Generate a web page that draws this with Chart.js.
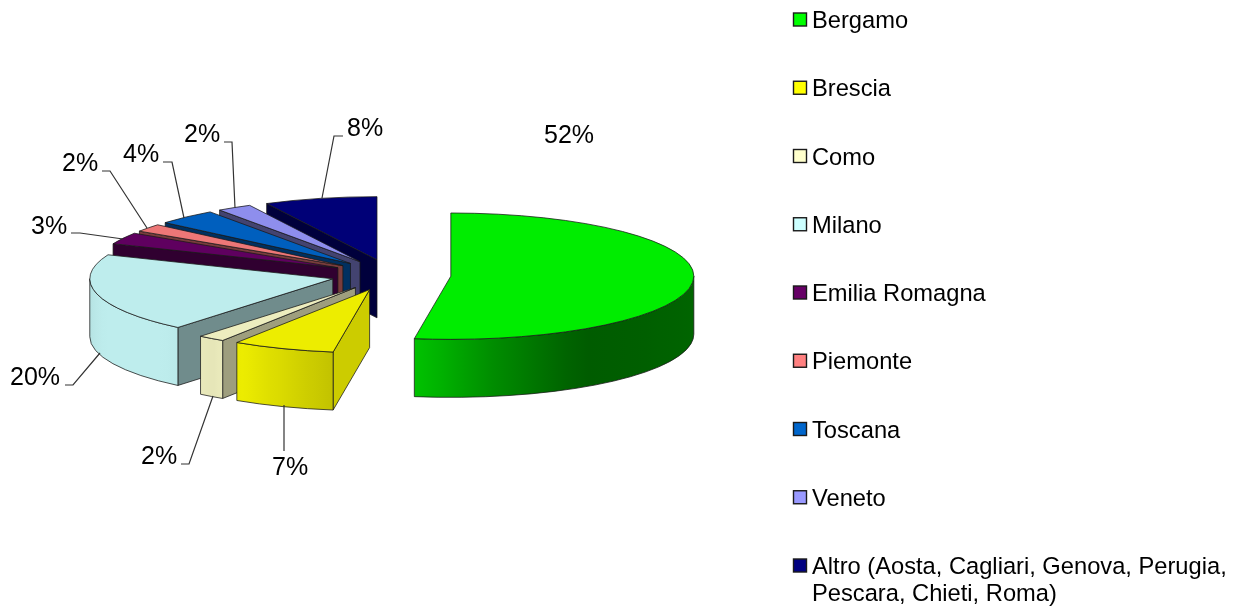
<!DOCTYPE html>
<html>
<head>
<meta charset="utf-8">
<style>html,body{margin:0;padding:0;background:#fff}canvas{display:block}</style>
<script src="https://cdn.jsdelivr.net/npm/chart.js@4/dist/chart.umd.min.js"></script>
</head>
<body>
<canvas id="c" width="1234" height="608"></canvas>
<script>
// ---- data ----
const categories = ['Bergamo','Brescia','Como','Milano','Emilia Romagna','Piemonte','Toscana','Veneto','Altro (Aosta, Cagliari, Genova, Perugia, Pescara, Chieti, Roma)'];
const legendLines = [['Bergamo'],['Brescia'],['Como'],['Milano'],['Emilia Romagna'],['Piemonte'],['Toscana'],['Veneto'],['Altro (Aosta, Cagliari, Genova, Perugia,','Pescara, Chieti, Roma)']];
const values = [52.4,6.8,1.8,20.2,3,2,4,2.3,7.5];
const baseColors = ['#00FF00','#FFFF00','#FFFFCC','#CCFFFF','#660066','#FF8080','#0066CC','#9999FF','#000080'];

// ---- styling / layout ----
const TOP_SHADE = 0.93, SQUASH = 0.26, DEPTH = 58, EXPLODE = 60, CENTER_Y = 275;
const startWallShades = [0.47,0.80,0.62,0.55,0.47,0.47,0.47,0.44,0.47];
const rimShadeStops = [[0,.40],[58,.36],[80,.55],[97,.75],[122,.93],[126,.90],[134,.93],[160,.93],[180,.88]];
const LABEL_FONT = '25px "Liberation Sans", Arial, sans-serif';
const LEGEND_FONT = '23.7px "Liberation Sans", Arial, sans-serif';
const labelAnchors = [[544,143],[272,475],[141,464],[10,385],[31,234],[62,171],[123,162],[184,142],[347,136]];
const leaderPaths = [
  null,
  [[284,451],[284,405]],
  [[181,464],[189,464],[213,396]],
  [[65,385],[73,385],[100,353]],
  [[71,233],[80,233],[123,239]],
  [[102,171],[110,171],[147,228]],
  [[163,162],[172,162],[184,218]],
  [[224,142],[232,142],[235,208]],
  [[343,136],[334,136],[322,198]]
];

function shade(hex,f){
  const n=parseInt(hex.slice(1),16);
  return `rgb(${Math.round((n>>16&255)*f)},${Math.round((n>>8&255)*f)},${Math.round((n&255)*f)})`;
}
function rimShade(deg){
  const t=rimShadeStops;
  if(deg<=t[0][0])return t[0][1];
  for(let i=1;i<t.length;i++){
    if(deg<=t[i][0]){const p=(deg-t[i-1][0])/(t[i][0]-t[i-1][0]);return t[i-1][1]+p*(t[i][1]-t[i-1][1]);}
  }
  return t[t.length-1][1];
}

const pie3d = {
  id:'pie3d',
  beforeDatasetDraw(chart,args){
    const ctx=chart.ctx, arcs=args.meta.data;
    ctx.save();
    ctx.lineWidth=0.9; ctx.strokeStyle='rgba(25,25,25,.85)'; ctx.lineJoin='round';
    for(let i=arcs.length-1;i>=0;i--){
      const a=arcs[i], p=a.getProps(['x','y','startAngle','endAngle','outerRadius']);
      const mid=(p.startAngle+p.endAngle)/2;
      const dx=Math.cos(mid)*EXPLODE, dy=Math.sin(mid)*EXPLODE*SQUASH;
      const ax=p.x+dx, ay=CENTER_Y+dy, R=p.outerRadius, r=R*SQUASH;
      const pt=t=>[ax+R*Math.cos(t), ay+r*Math.sin(t)];
      // cut wall on the start side
      if(Math.sin(p.startAngle)>0 || Math.cos(p.startAngle)<0){
        const e=pt(p.startAngle);
        ctx.beginPath();
        ctx.moveTo(ax,ay);ctx.lineTo(e[0],e[1]);ctx.lineTo(e[0],e[1]+DEPTH);ctx.lineTo(ax,ay+DEPTH);ctx.closePath();
        ctx.fillStyle=shade(baseColors[i],startWallShades[i]);
        ctx.fill();ctx.stroke();
      }
      // curved outer wall, front half only
      const t1=Math.max(p.startAngle,0), t2=Math.min(p.endAngle,Math.PI);
      if(t2>t1){
        const x1=pt(t1)[0], x2=pt(t2)[0];
        const g=ctx.createLinearGradient(x1,0,x2,0);
        const N=16;
        for(let k=0;k<=N;k++){
          const t=t1+(t2-t1)*k/N;
          const off=(pt(t)[0]-x1)/(x2-x1);
          g.addColorStop(Math.min(1,Math.max(0,off)),shade(baseColors[i],rimShade(t*180/Math.PI)));
        }
        ctx.beginPath();
        ctx.ellipse(ax,ay,R,r,0,t1,t2,false);
        ctx.ellipse(ax,ay+DEPTH,R,r,0,t2,t1,true);
        ctx.closePath();
        ctx.fillStyle=g;
        ctx.fill();ctx.stroke();
      }
      // top face: the library's own arc, squashed and moved out
      ctx.save();
      ctx.translate(dx,CENTER_Y+dy);
      ctx.scale(1,SQUASH);
      ctx.translate(0,-p.y);
      a.draw(ctx);
      ctx.restore();
      ctx.beginPath();
      ctx.moveTo(ax,ay);
      ctx.ellipse(ax,ay,R,r,0,p.startAngle,p.endAngle,false);
      ctx.closePath();
      ctx.stroke();
    }
    ctx.restore();
    return false;
  },
  afterDraw(chart){
    const ctx=chart.ctx;
    ctx.save();
    // data labels + leaders
    ctx.font=LABEL_FONT; ctx.fillStyle='#000'; ctx.textBaseline='alphabetic'; ctx.textAlign='left';
    values.forEach((v,i)=>{
      ctx.fillText(Math.round(v)+'%',labelAnchors[i][0],labelAnchors[i][1]);
      const l=leaderPaths[i];
      if(l){
        ctx.beginPath();
        l.forEach((q,k)=>k?ctx.lineTo(q[0],q[1]):ctx.moveTo(q[0],q[1]));
        ctx.strokeStyle='#333';ctx.lineWidth=1.2;ctx.stroke();
      }
    });
    // legend
    ctx.font=LEGEND_FONT;
    legendLines.forEach((lines,i)=>{
      const y=27+i*68.25;
      ctx.fillStyle=baseColors[i];
      ctx.fillRect(793.5,y-14,13,13);
      ctx.strokeStyle='#1a1a1a';ctx.lineWidth=1.4;
      ctx.strokeRect(793.5,y-14,13,13);
      ctx.fillStyle='#000';
      lines.forEach((s,k)=>ctx.fillText(s,812,y+1+k*27));
    });
    ctx.restore();
  }
};

new Chart(document.getElementById('c').getContext('2d'),{
  type:'pie',
  data:{labels:categories,datasets:[{data:values,backgroundColor:baseColors.map(c=>shade(c,TOP_SHADE)),borderWidth:0}]},
  options:{
    responsive:false,animation:false,radius:243,
    layout:{padding:{left:0,right:452,top:0,bottom:0}},
    plugins:{legend:{display:false},tooltip:{enabled:false}}
  },
  plugins:[pie3d]
});
</script>
</body>
</html>
